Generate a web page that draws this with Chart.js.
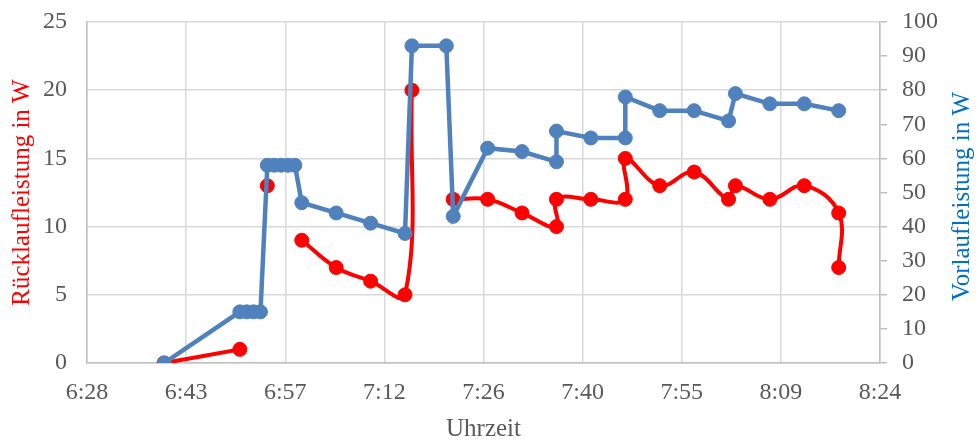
<!DOCTYPE html>
<html lang="de">
<head>
<meta charset="utf-8">
<title>Rücklauf- und Vorlaufleistung</title>
<script src="https://cdn.jsdelivr.net/npm/chart.js@4.4.1/dist/chart.umd.min.js"></script>
<style>
  html, body { margin: 0; padding: 0; background: #fff; }
  #wrap { width: 977px; height: 441px; position: relative; }
</style>
</head>
<body>
<div id="wrap"><canvas id="leistungChart"></canvas></div>
<script>
// Messzeitpunkte und Werte
const vorlaufZeit = ['6:40', '6:51', '6:52', '6:53', '6:54', '6:55', '6:56', '6:57', '6:58', '6:59',
  '7:00', '7:05', '7:10', '7:15', '7:16', '7:21', '7:22', '7:27', '7:32', '7:37', '7:37',
  '7:42', '7:47', '7:47', '7:52', '7:57', '8:02', '8:03', '8:08', '8:13', '8:18'];
const vorlaufW = [0, 15, 15, 15, 15, 58, 58, 58, 58, 58,
  47, 44, 41, 38, 93, 93, 43, 63, 62, 59, 68,
  66, 66, 78, 74, 74, 71, 79, 76, 76, 74];

const ruecklaufZeit = ['6:40', '6:51', '6:52', '6:55', '6:56', '7:00', '7:05', '7:10', '7:15', '7:16',
  '7:21', '7:22', '7:27', '7:32', '7:37', '7:37', '7:42', '7:47', '7:47', '7:52', '7:57',
  '8:02', '8:03', '8:08', '8:13', '8:18', '8:18'];
const ruecklaufW = [0, 1, null, 13, null, 9, 7, 6, 5, 20,
  null, 12, 12, 11, 10, 12, 12, 12, 15, 13, 14,
  12, 13, 12, 13, 11, 7];

// x-Achse in Sekunden (0,27 ... 0,35 Tage)
const xAchseMin = 23328;
const xAchseMax = 30240;
const xSchritt = 864;
const xTickLabels = ['6:28', '6:43', '6:57', '7:12', '7:26', '7:40', '7:55', '8:09', '8:24'];

const serif = "'Liberation Serif', 'Times New Roman', serif";

function inSekunden(zeit) {
  const teile = zeit.split(':');
  return Number(teile[0]) * 3600 + Number(teile[1]) * 60;
}

function punkte(zeiten, werte) {
  return zeiten.map((z, i) => ({ x: inSekunden(z), y: werte[i] }));
}

// feste Achsenbreite, ohne Zusatzabstand oben/unten
function festeBreite(breite) {
  return scale => {
    scale.width = breite;
    scale.paddingTop = 0;
    scale.paddingBottom = 0;
  };
}

// Titel der rechten Achse (von unten nach oben gelesen)
const rechterTitel = {
  id: 'rechterTitel',
  afterDraw(chart) {
    const ctx = chart.ctx;
    const area = chart.chartArea;
    ctx.save();
    ctx.translate(969, (area.top + area.bottom) / 2 + 4);
    ctx.rotate(-Math.PI / 2);
    ctx.font = '25px ' + serif;
    ctx.fillStyle = '#0070C0';
    ctx.textAlign = 'center';
    ctx.textBaseline = 'alphabetic';
    ctx.fillText('Vorlaufleistung in W', 0, 0);
    ctx.restore();
  }
};

const ctx = document.getElementById('leistungChart');

new Chart(ctx, {
  type: 'line',
  data: {
    datasets: [
      {
        label: 'Vorlaufleistung',
        data: punkte(vorlaufZeit, vorlaufW),
        yAxisID: 'yRechts',
        borderColor: '#4F81BD',
        backgroundColor: '#4F81BD',
        borderWidth: 4.5,
        pointRadius: 7,
        pointBorderWidth: 1,
        tension: 0
      },
      {
        label: 'Rücklaufleistung',
        data: punkte(ruecklaufZeit, ruecklaufW),
        yAxisID: 'yLinks',
        borderColor: '#FF0000',
        backgroundColor: '#FF0000',
        borderWidth: 4,
        pointRadius: 7,
        pointBorderWidth: 1,
        tension: 0.4,
        spanGaps: false
      }
    ]
  },
  options: {
    responsive: true,
    maintainAspectRatio: false,
    animation: false,
    devicePixelRatio: 1,
    layout: {
      padding: { top: 22, left: 0, right: 0, bottom: 0 }
    },
    plugins: {
      legend: { display: false },
      tooltip: { enabled: false }
    },
    scales: {
      x: {
        type: 'linear',
        position: 'bottom',
        min: xAchseMin,
        max: xAchseMax,
        ticks: {
          stepSize: xSchritt,
          autoSkip: false,
          maxRotation: 0,
          padding: 15,
          color: '#595959',
          font: { family: serif, size: 24 },
          callback: (value, index) => xTickLabels[index]
        },
        grid: { color: '#D9D9D9', lineWidth: 1.5, drawTicks: false },
        border: { color: '#BFBFBF', width: 1.5 },
        title: {
          display: true,
          text: 'Uhrzeit',
          color: '#595959',
          font: { family: serif, size: 25, lineHeight: 0.9 },
          padding: { top: 0, bottom: 0 }
        },
        afterFit: scale => {
          scale.height = 78;
          scale.paddingLeft = 0;
          scale.paddingRight = 0;
        }
      },
      yLinks: {
        type: 'linear',
        position: 'left',
        min: 0,
        max: 25,
        ticks: {
          stepSize: 5,
          padding: 20,
          color: '#595959',
          font: { family: serif, size: 24 }
        },
        grid: { color: '#D9D9D9', lineWidth: 1.5, drawTicks: false },
        border: { color: '#BFBFBF', width: 1.5 },
        title: {
          display: true,
          text: 'Rücklaufleistung in W',
          color: '#FF0000',
          font: { family: serif, size: 25 },
          padding: { top: 7, bottom: 0 }
        },
        afterFit: festeBreite(87)
      },
      yRechts: {
        type: 'linear',
        position: 'right',
        min: 0,
        max: 100,
        ticks: {
          stepSize: 10,
          padding: 15,
          color: '#595959',
          font: { family: serif, size: 24 }
        },
        grid: { drawOnChartArea: false, drawTicks: true, tickLength: 7, color: '#BFBFBF', lineWidth: 1.5 },
        border: { color: '#BFBFBF', width: 1.5 },
        afterFit: festeBreite(97)
      }
    }
  },
  plugins: [rechterTitel]
});
</script>
</body>
</html>
